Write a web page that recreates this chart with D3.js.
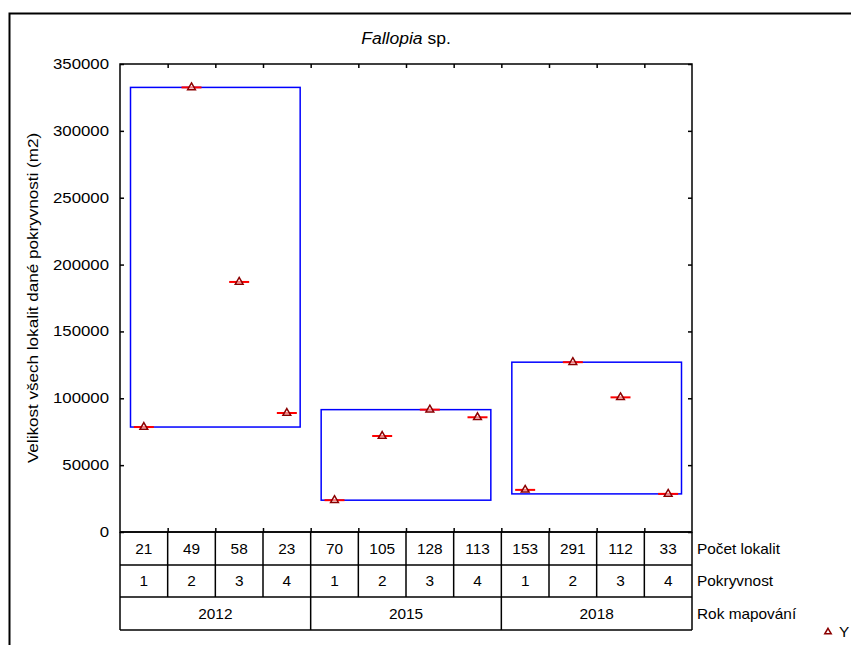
<!DOCTYPE html>
<html>
<head>
<meta charset="utf-8">
<script src="https://cdn.jsdelivr.net/npm/d3@7"></script>
<style>
  html, body { margin: 0; padding: 0; background: #fff; }
  svg { display: block; }
  text { font-family: "Liberation Sans", Arial, sans-serif; fill: #000; }
</style>
</head>
<body>
<svg id="chart" width="851" height="645"></svg>
<script>
// Area of Fallopia sp. sites per coverage class and mapping year
const years = ["2012", "2015", "2018"];
const coverage = [1, 2, 3, 4];
const siteCounts = [21, 49, 58, 23, 70, 105, 128, 113, 153, 291, 112, 33];
const areaValues = [78500, 332500, 187000, 89000, 23800, 71800, 91500, 85800, 31500, 127000, 100700, 28500];
const yTicks = [0, 50000, 100000, 150000, 200000, 250000, 300000, 350000];
const rowLabels = ["Počet lokalit", "Pokryvnost", "Rok mapování"];

const svg = d3.select("#chart");
const W = 851, H = 645;
const plot = { left: 120, right: 692, top: 64, bottom: 532 };
const rowLines = [532, 565, 597, 630];
const SX = 1.2; // horizontal text stretch

// categories: one per (year, coverage) pair
const cats = [];
years.forEach((yr, gi) => coverage.forEach((c, ci) => {
  const i = gi * coverage.length + ci;
  cats.push({ i, year: yr, group: gi, cover: c, count: siteCounts[i], value: areaValues[i] });
}));

const x = d3.scaleBand().domain(cats.map(d => d.i)).range([plot.left, plot.right]);
const y = d3.scaleLinear().domain([0, 350000]).range([plot.bottom, plot.top]);

function stretch(sel, sx) {
  sel.each(function () {
    const t = d3.select(this);
    const tx = +t.attr("x") || 0;
    const ty = +t.attr("y") || 0;
    t.attr("x", 0).attr("y", 0).attr("transform", `translate(${tx},${ty}) scale(${sx},1)`);
  });
}

// outer frame
svg.append("rect").attr("x", 9.5).attr("y", 13.5).attr("width", 900).attr("height", 700)
  .attr("fill", "none").attr("stroke", "#000").attr("stroke-width", 2);

// title
const title = svg.append("text").attr("x", 406).attr("y", 44)
  .attr("text-anchor", "middle").attr("font-size", 17);
title.append("tspan").attr("font-style", "italic").text("Fallopia");
title.append("tspan").text(" sp.");
stretch(title, 1.03);

// y axis (left) with inward ticks
const yAxisL = svg.append("g").attr("transform", `translate(${plot.left},0)`)
  .call(d3.axisLeft(y).tickValues(yTicks).tickSize(-4).tickPadding(11).tickFormat(d3.format("d")));
yAxisL.select(".domain").remove();
yAxisL.selectAll("line").attr("stroke", "#000").attr("stroke-width", 1.5);
yAxisL.selectAll("text").attr("font-size", 14).attr("fill", "#000").attr("font-family", "Liberation Sans, Arial, sans-serif");
stretch(yAxisL.selectAll("text"), SX);

// y axis (right) ticks only
const yAxisR = svg.append("g").attr("transform", `translate(${plot.right},0)`)
  .call(d3.axisRight(y).tickValues(yTicks).tickSize(-4).tickFormat(""));
yAxisR.select(".domain").remove();
yAxisR.selectAll("line").attr("stroke", "#000").attr("stroke-width", 1.5);

// category boundary ticks on top and bottom
const bounds = d3.range(1, cats.length).map(k => plot.left + k * x.step());
const xb = d3.scaleLinear().domain([plot.left, plot.right]).range([plot.left, plot.right]);
const xTop = svg.append("g").attr("transform", `translate(0,${plot.top})`)
  .call(d3.axisTop(xb).tickValues(bounds).tickSize(-4).tickFormat(""));
xTop.select(".domain").remove();
xTop.selectAll("line").attr("stroke", "#000").attr("stroke-width", 1.5);
const xBot = svg.append("g").attr("transform", `translate(0,${plot.bottom})`)
  .call(d3.axisBottom(xb).tickValues(bounds).tickSize(-4).tickFormat(""));
xBot.select(".domain").remove();
xBot.selectAll("line").attr("stroke", "#000").attr("stroke-width", 1.5);

// plot frame
svg.append("rect").attr("x", plot.left).attr("y", plot.top)
  .attr("width", plot.right - plot.left).attr("height", plot.bottom - plot.top)
  .attr("fill", "none").attr("stroke", "#000").attr("stroke-width", 1.5);

// y axis title
const yTitle = svg.append("text").attr("text-anchor", "middle").attr("font-size", 14)
  .attr("transform", `translate(38,${(plot.top + plot.bottom) / 2}) rotate(-90) scale(1.22,1)`)
  .text("Velikost všech lokalit dané pokryvnosti (m2)");

// min-max boxes per year
const inset = 10.5;
years.forEach((yr, gi) => {
  const g = cats.filter(d => d.group === gi);
  const x0 = x(g[0].i) + inset;
  const x1 = x(g[g.length - 1].i) + x.bandwidth() - inset;
  const vMin = d3.min(g, d => d.value), vMax = d3.max(g, d => d.value);
  svg.append("rect").attr("x", x0).attr("y", y(vMax))
    .attr("width", x1 - x0).attr("height", y(vMin) - y(vMax))
    .attr("fill", "none").attr("stroke", "#0000ff").attr("stroke-width", 1.5);
});

// point markers: red level line with dark-red triangle
const tri = d3.symbol().type(d3.symbolTriangle).size(26);
const pts = svg.append("g").selectAll("g").data(cats).join("g")
  .attr("transform", d => `translate(${x(d.i) + x.bandwidth() / 2},${y(d.value)})`);
pts.append("line").attr("x1", -10).attr("x2", 10).attr("y1", 0).attr("y2", 0)
  .attr("stroke", "#ff0000").attr("stroke-width", 2);
pts.append("path").attr("d", tri).attr("fill", "#fff").attr("fill-opacity", 0.5)
  .attr("stroke", "#8b0000").attr("stroke-width", 1.5);

// table below the plot
const tbl = svg.append("g");
rowLines.forEach(yy => tbl.append("line").attr("x1", plot.left).attr("x2", plot.right)
  .attr("y1", yy).attr("y2", yy).attr("stroke", "#000").attr("stroke-width", 1.5));
// verticals for the two upper rows
[plot.left, ...bounds, plot.right].forEach(xx => tbl.append("line")
  .attr("x1", xx).attr("x2", xx).attr("y1", rowLines[0]).attr("y2", rowLines[2])
  .attr("stroke", "#000").attr("stroke-width", 1.5));
// verticals for the year row
const groupEdges = [plot.left, ...years.map((yr, gi) => x((gi + 1) * coverage.length - 1) + x.bandwidth())];
groupEdges.forEach(xx => tbl.append("line")
  .attr("x1", xx).attr("x2", xx).attr("y1", rowLines[2]).attr("y2", rowLines[3])
  .attr("stroke", "#000").attr("stroke-width", 1.5));

const rowMid = k => (rowLines[k] + rowLines[k + 1]) / 2;
const cellText = tbl.selectAll(".cnt").data(cats).join("text")
  .attr("x", d => x(d.i) + x.bandwidth() / 2).attr("y", rowMid(0))
  .attr("dy", "0.36em").attr("text-anchor", "middle").attr("font-size", 14)
  .text(d => d.count);
stretch(cellText, 1.1);
const covText = tbl.selectAll(".cov").data(cats).join("text")
  .attr("x", d => x(d.i) + x.bandwidth() / 2).attr("y", rowMid(1))
  .attr("dy", "0.36em").attr("text-anchor", "middle").attr("font-size", 14)
  .text(d => d.cover);
stretch(covText, 1.1);
const yrText = tbl.selectAll(".yr").data(years).join("text")
  .attr("x", (d, gi) => (groupEdges[gi] + groupEdges[gi + 1]) / 2).attr("y", rowMid(2))
  .attr("dy", "0.36em").attr("text-anchor", "middle").attr("font-size", 14)
  .text(d => d);
stretch(yrText, 1.1);
const lblText = tbl.selectAll(".lbl").data(rowLabels).join("text")
  .attr("x", 697).attr("y", (d, k) => rowMid(k))
  .attr("dy", "0.36em").attr("font-size", 14)
  .text(d => d);
stretch(lblText, 1.1);

// legend
const leg = svg.append("g").attr("transform", "translate(828,632)");
leg.append("path").attr("d", d3.symbol().type(d3.symbolTriangle).size(18))
  .attr("fill", "#fff").attr("stroke", "#8b0000").attr("stroke-width", 1.5);
const legText = leg.append("text").attr("x", 11).attr("y", 0).attr("dy", "0.36em")
  .attr("font-size", 14).text("Y");
stretch(legText, 1.1);
</script>
</body>
</html>
